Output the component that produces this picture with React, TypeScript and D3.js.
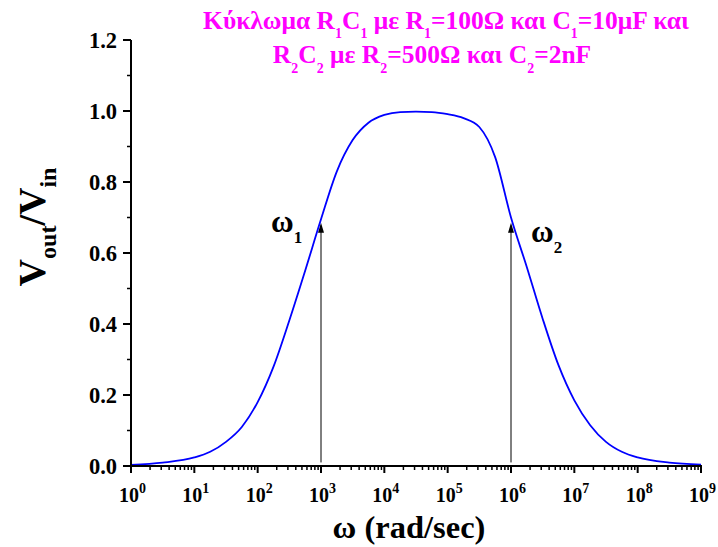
import React from "react";
import * as d3 from "d3";

// Angular frequency samples (rad/sec) and the measured gain Vout/Vin
const omega = [
  1, 3.16, 10, 17.8, 31.6, 56.2, 100, 178, 316, 562, 1000, 1780, 3160, 5620,
  1e4, 1.78e4, 3.16e4, 5.62e4, 1e5, 1.78e5, 3.16e5, 5.62e5, 1e6, 1.78e6, 3.16e6,
  5.62e6, 1e7, 1.78e7, 3.16e7, 5.62e7, 1e8, 3.16e8, 1e9,
];
const gain = [
  0.003, 0.0095, 0.024, 0.04, 0.068, 0.11, 0.18, 0.28, 0.41, 0.55, 0.695, 0.83,
  0.918, 0.967, 0.989, 0.997, 0.998, 0.997, 0.991, 0.98, 0.955, 0.87, 0.7, 0.56, 0.415,
  0.284, 0.185, 0.115, 0.068, 0.04, 0.024, 0.0095, 0.004,
];

// Cut-off frequencies ω1 = 1/(R1C1), ω2 = 1/(R2C2)
const cutoffs = [
  { name: "1", w: 1e3 },
  { name: "2", w: 1e6 },
];
const cutoffArrowTop = 0.685;
const cutoffArrowBase = 0.01;

const yTicks = [0, 0.2, 0.4, 0.6, 0.8, 1.0, 1.2];
const yMinorTicks = [0.1, 0.3, 0.5, 0.7, 0.9, 1.1];
const xDecades = [0, 1, 2, 3, 4, 5, 6, 7, 8, 9];

const W = 718;
const H = 547;
const FONT = "'Liberation Serif', 'Times New Roman', serif";
const TITLE = "#ff00ff";

export default function App() {
  const x = d3.scaleLog().domain([1, 1e9]).range([131, 701]);
  const y = d3.scaleLinear().domain([0, 1.2]).range([466, 40]);

  const pts = omega.map((w, i) => [w, gain[i]] as [number, number]);
  const line = d3
    .line<[number, number]>()
    .x((d) => x(d[0]))
    .y((d) => y(d[1]))
    .curve(d3.curveMonotoneX);

  const xMinor: number[] = [];
  for (let d = 0; d < 9; d++) for (let k = 2; k <= 9; k++) xMinor.push(k * Math.pow(10, d));

  return (
    <svg
      width={W}
      height={H}
      style={{ position: "absolute", left: 0, top: 0, background: "#fff" }}
      fontFamily={FONT}
      fontWeight="bold"
    >
      {/* title */}
      <text x={446} y={29} textAnchor="middle" fontSize={25.5} fill={TITLE}>
        <tspan>Κύκλωμα R</tspan>
        <tspan fontSize={14} dy={9}>1</tspan>
        <tspan dy={-9}>C</tspan>
        <tspan fontSize={14} dy={9}>1</tspan>
        <tspan dy={-9}> με R</tspan>
        <tspan fontSize={14} dy={9}>1</tspan>
        <tspan dy={-9}>=100Ω και C</tspan>
        <tspan fontSize={14} dy={9}>1</tspan>
        <tspan dy={-9}>=10μF και</tspan>
      </text>
      <text x={432} y={63} textAnchor="middle" fontSize={25.5} fill={TITLE}>
        <tspan>R</tspan>
        <tspan fontSize={14} dy={10}>2</tspan>
        <tspan dy={-10}>C</tspan>
        <tspan fontSize={14} dy={10}>2</tspan>
        <tspan dy={-10}> με R</tspan>
        <tspan fontSize={14} dy={10}>2</tspan>
        <tspan dy={-10}>=500Ω και C</tspan>
        <tspan fontSize={14} dy={10}>2</tspan>
        <tspan dy={-10}>=2nF</tspan>
      </text>

      {/* cut-off arrows */}
      {cutoffs.map((c) => (
        <line
          key={"arr" + c.name}
          x1={x(c.w)}
          x2={x(c.w)}
          y1={y(cutoffArrowBase)}
          y2={y(cutoffArrowTop) + 9}
          stroke="#000"
          strokeWidth={1}
        />
      ))}
      {cutoffs.map((c) => (
        <path
          key={"head" + c.name}
          d={`M${x(c.w)},${y(cutoffArrowTop)} L${x(c.w) - 3},${y(cutoffArrowTop) + 10} L${x(c.w) + 3},${y(cutoffArrowTop) + 10} Z`}
          fill="#000"
        />
      ))}

      {/* curve */}
      <path d={line(pts) || ""} fill="none" stroke="#0000ff" strokeWidth={1.8} />

      {/* cut-off labels */}
      <text x={271} y={231.5} fontSize={31} fill="#000">
        ω<tspan fontSize={17} dy={11.5}>1</tspan>
      </text>
      <text x={531} y={241.5} fontSize={31} fill="#000">
        ω<tspan fontSize={17} dy={11.5}>2</tspan>
      </text>

      {/* y axis */}
      <line x1={131} x2={131} y1={y(1.2)} y2={y(0) + 1} stroke="#000" strokeWidth={2} />
      {yTicks.map((t) => (
        <g key={"yt" + t}>
          <line x1={123} x2={131} y1={y(t)} y2={y(t)} stroke="#000" strokeWidth={2} />
          <text x={117} y={y(t)} dy="0.36em" textAnchor="end" fontSize={22.5} fill="#000">
            {t.toFixed(1)}
          </text>
        </g>
      ))}
      {yMinorTicks.map((t) => (
        <line key={"ym" + t} x1={127} x2={131} y1={y(t)} y2={y(t)} stroke="#000" strokeWidth={1.5} />
      ))}

      {/* x axis */}
      <line x1={130} x2={702} y1={466} y2={466} stroke="#000" strokeWidth={2} />
      {xDecades.map((d) => (
        <g key={"xt" + d}>
          <line x1={x(Math.pow(10, d))} x2={x(Math.pow(10, d))} y1={466} y2={473} stroke="#000" strokeWidth={2} />
          <text x={x(Math.pow(10, d)) + 1.5} y={502} textAnchor="middle" fontSize={20} fill="#000">
            10<tspan fontSize={14} dy={-9}>{d}</tspan>
          </text>
        </g>
      ))}
      {xMinor.map((v) => (
        <line key={"xm" + v} x1={x(v)} x2={x(v)} y1={466} y2={470} stroke="#000" strokeWidth={1.5} />
      ))}

      {/* axis titles */}
      <text x={409} y={538} textAnchor="middle" fontSize={32.5} fill="#000">
        ω (rad/sec)
      </text>
      <text transform="translate(45,227) rotate(-90)" textAnchor="middle" fontSize={38} fill="#000">
        V<tspan fontSize={24} dy={11}>out</tspan>
        <tspan dy={-11}>/V</tspan>
        <tspan fontSize={24} dy={11}>in</tspan>
      </text>
    </svg>
  );
}
